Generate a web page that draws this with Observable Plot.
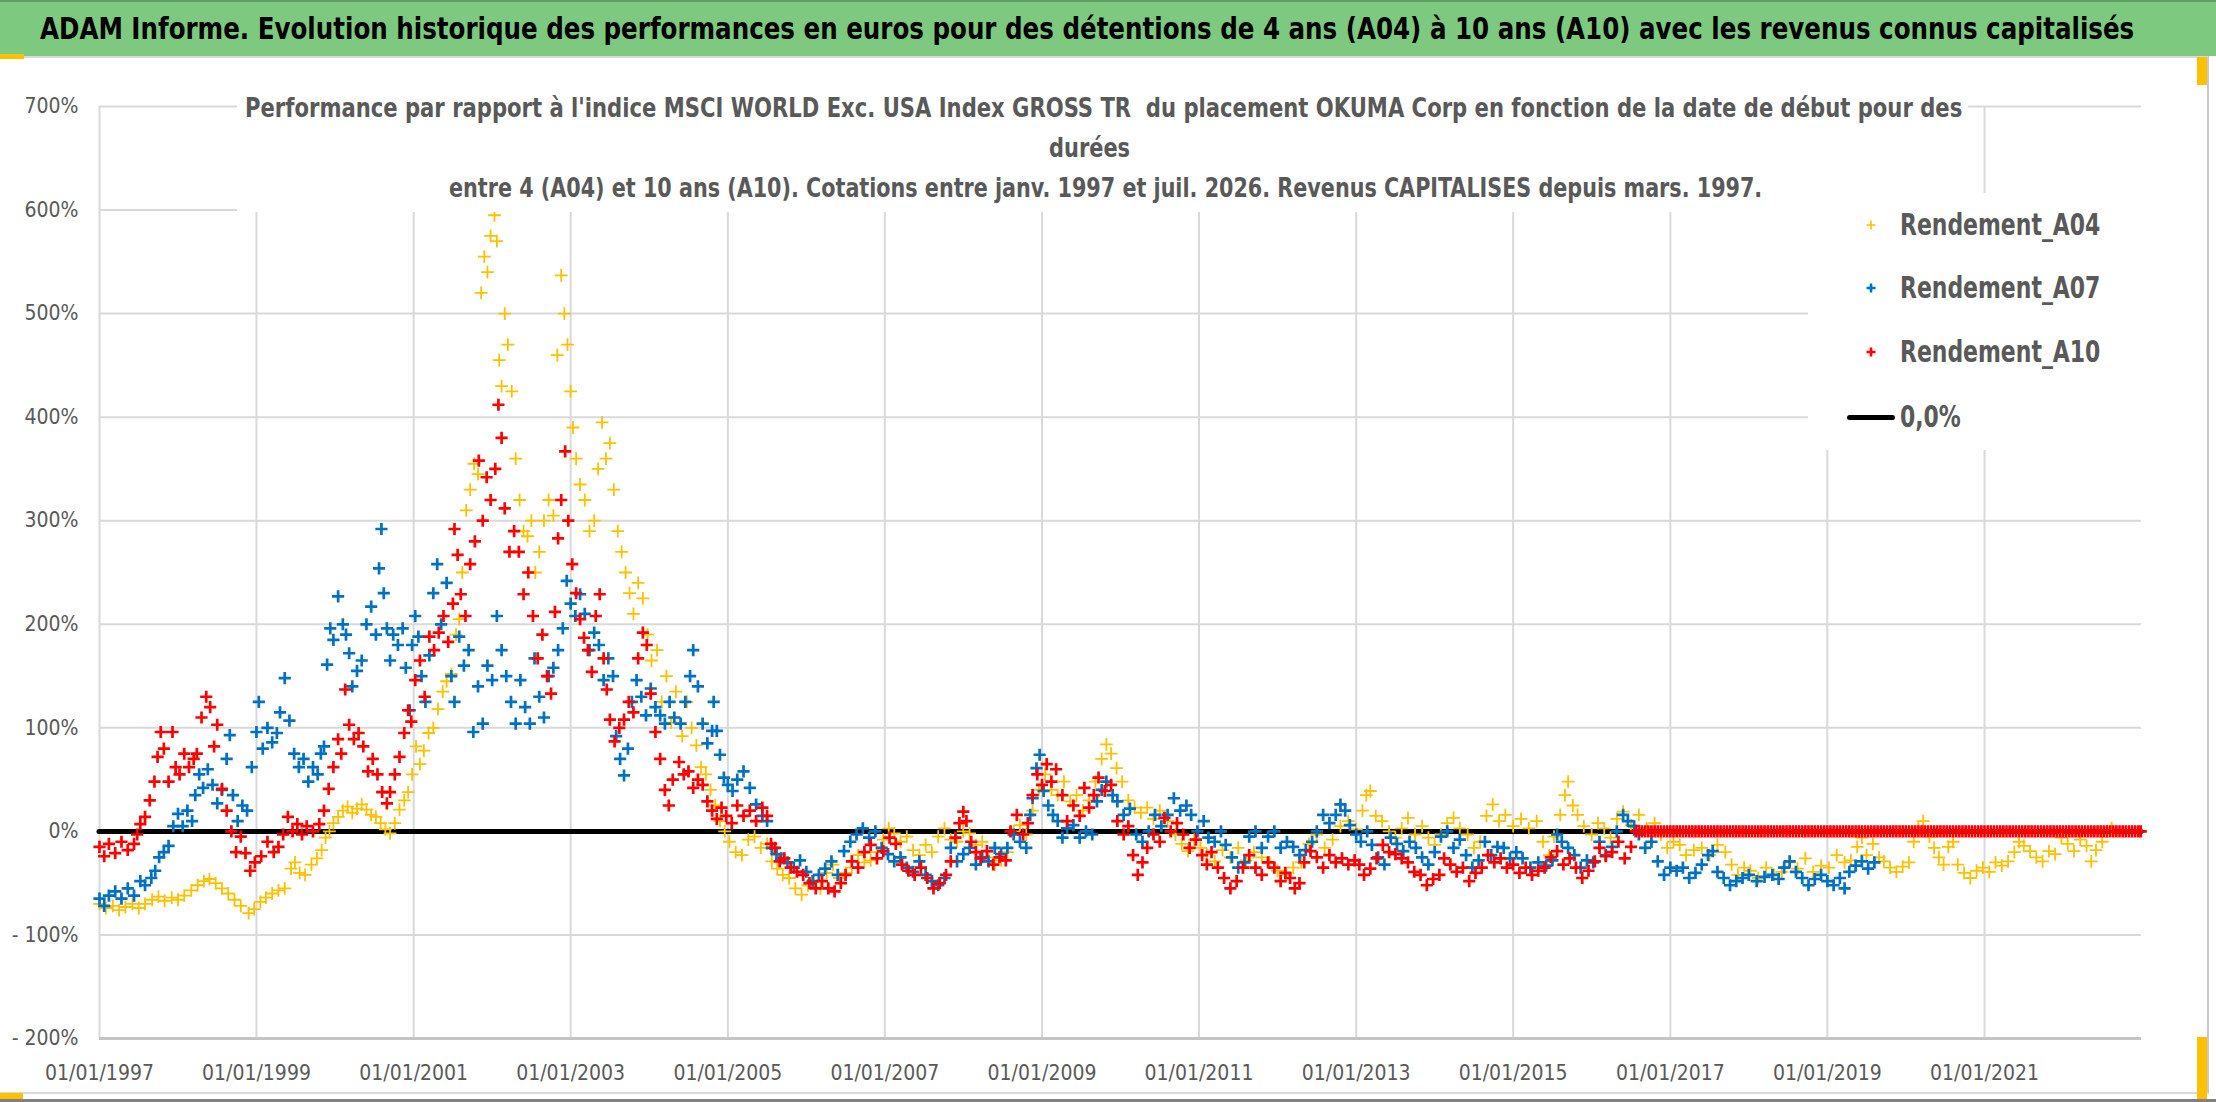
<!DOCTYPE html>
<html><head><meta charset="utf-8">
<script src="https://cdn.jsdelivr.net/npm/d3@7"></script>
<script src="https://cdn.jsdelivr.net/npm/@observablehq/plot@0.6"></script>
<style>
html,body{margin:0;padding:0;background:#fff;}
body{width:2216px;height:1102px;position:relative;overflow:hidden;font-family:'Liberation Sans Narrow','Arial Narrow','DejaVu Sans Condensed',sans-serif;}
.abs{position:absolute;}
.fit{position:absolute;white-space:pre;transform-origin:0 50%;}
.sub{font-size:26px;font-weight:bold;color:#595959;line-height:32px;}
.leg{font-size:30px;font-weight:bold;color:#595959;line-height:36px;}
</style></head><body>
<div class="abs" style="left:0;top:0;width:2216px;height:54px;background:#7DC97F;border-top:2px solid #5E9E60;"></div>
<div class="abs" style="left:0;top:56px;width:2207px;height:1034px;border-top:2px solid #D9D9D9;border-right:2px solid #C8C8C8;border-bottom:2px solid #D9D9D9;"></div>
<div class="abs" style="left:0;top:1099px;width:2216px;height:3px;background:#808080;"></div>
<div id="chart" class="abs" style="left:0;top:57px;"></div>
<div class="abs" style="left:237px;top:62px;width:1731px;height:150px;background:#fff;"></div>
<div class="abs" style="left:1808px;top:193px;width:342px;height:257px;background:#fff;"></div>
<div id="title" class="fit" style="font-size:31px;font-weight:bold;color:#000;line-height:38px;"></div>
<div id="s1" class="fit sub"></div>
<div id="s2" class="fit sub"></div>
<div id="s3" class="fit sub"></div>
<div id="legend"></div>
<div class="abs" style="left:0;top:54px;width:24px;height:5px;background:#FFC000;"></div>
<div class="abs" style="left:0;top:1093px;width:23px;height:6px;background:#FFC000;"></div>
<div class="abs" style="left:2197px;top:1037px;width:10px;height:62px;background:#FFC000;"></div>
<div class="abs" style="left:2197px;top:57px;width:10px;height:28px;background:#FFC000;"></div>
<script>
const FONT = "'Liberation Sans Narrow','Arial Narrow','DejaVu Sans Condensed',sans-serif";

const titleText = "ADAM Informe. Evolution historique des performances en euros pour des détentions de 4 ans (A04) à 10 ans (A10) avec les revenus connus capitalisés";
const subtitleLines = [
  "Performance par rapport à l'indice MSCI WORLD Exc. USA Index GROSS TR  du placement OKUMA Corp en fonction de la date de début pour des",
  "durées",
  "entre 4 (A04) et 10 ans (A10). Cotations entre janv. 1997 et juil. 2026. Revenus CAPITALISES depuis mars. 1997."
];
const seriesNames = ["Rendement_A04", "Rendement_A07", "Rendement_A10"];
const zeroName = "0,0%";
const seriesColors = ["#FFC000", "#0070C0", "#FF0000"];

const yTicks = [-200, -100, 0, 100, 200, 300, 400, 500, 600, 700];
const xTickYears = [1997, 1999, 2001, 2003, 2005, 2007, 2009, 2011, 2013, 2015, 2017, 2019, 2021];
const xStartYear = 1997, xEndYear = 2023;

// [decimal year, performance %]
const rendementA04 = [[1997.00,-70],[1997.08,-74],[1997.17,-72],[1997.25,-76],[1997.33,-73],[1997.42,-70],[1997.5,-74],[1997.58,-70],[1997.67,-66],[1997.75,-63],[1997.83,-67],[1997.92,-64],[1998.0,-66],[1998.08,-62],[1998.17,-57],[1998.25,-52],[1998.33,-48],[1998.4,-46],[1998.48,-50],[1998.56,-55],[1998.64,-60],[1998.72,-66],[1998.8,-72],[1998.9,-79],[1998.97,-75],[1999.05,-68],[1999.12,-64],[1999.2,-60],[1999.28,-57],[1999.36,-55],[1999.44,-36],[1999.49,-30],[1999.55,-40],[1999.62,-42],[1999.7,-32],[1999.77,-26],[1999.83,-18],[1999.88,-6],[1999.93,0],[1999.98,8],[2000.04,14],[2000.1,20],[2000.16,24],[2000.22,18],[2000.28,22],[2000.34,26],[2000.4,21],[2000.46,16],[2000.52,14],[2000.58,8],[2000.64,2],[2000.7,-2],[2000.76,8],[2000.82,21],[2000.88,30],[2000.93,38],[2000.98,55],[2001.03,82],[2001.08,65],[2001.13,78],[2001.19,95],[2001.25,100],[2001.31,118],[2001.37,135],[2001.42,145],[2001.48,152],[2001.54,190],[2001.58,205],[2001.62,250],[2001.67,310],[2001.72,330],[2001.77,355],[2001.82,345],[2001.86,520],[2001.9,555],[2001.94,540],[2001.98,575],[2002.03,595],[2002.06,570],[2002.09,455],[2002.12,430],[2002.16,500],[2002.2,470],[2002.25,425],[2002.3,360],[2002.35,320],[2002.4,290],[2002.45,285],[2002.5,300],[2002.55,250],[2002.6,270],[2002.66,300],[2002.72,320],[2002.78,305],[2002.83,460],[2002.88,537],[2002.92,500],[2002.96,470],[2003.0,425],[2003.03,390],[2003.07,360],[2003.12,335],[2003.18,320],[2003.24,290],[2003.3,300],[2003.35,350],[2003.4,395],[2003.45,360],[2003.5,375],[2003.55,330],[2003.6,290],[2003.65,270],[2003.7,250],[2003.75,230],[2003.8,210],[2003.86,240],[2003.92,225],[2003.98,190],[2004.03,165],[2004.1,175],[2004.16,125],[2004.22,150],[2004.28,105],[2004.34,135],[2004.42,92],[2004.48,125],[2004.54,100],[2004.6,83],[2004.66,62],[2004.72,55],[2004.78,40],[2004.84,25],[2004.9,10],[2004.96,0],[2005.02,-10],[2005.1,-20],[2005.18,-23],[2005.26,-8],[2005.34,-5],[2005.42,-16],[2005.5,-12],[2005.56,-29],[2005.63,-36],[2005.7,-42],[2005.78,-45],[2005.86,-55],[2005.94,-61],[2006.02,-52],[2006.1,-48],[2006.18,-55],[2006.26,-40],[2006.34,-32],[2006.42,-45],[2006.5,-40],[2006.58,-35],[2006.66,-23],[2006.74,-30],[2006.82,-28],[2006.9,-20],[2006.98,-8],[2007.05,3],[2007.12,-2],[2007.2,-10],[2007.28,-5],[2007.36,-18],[2007.44,-23],[2007.52,-13],[2007.6,-20],[2007.68,-5],[2007.76,3],[2007.84,-8],[2007.92,-10],[2008.0,0],[2008.08,-2],[2008.16,-13],[2008.24,-10],[2008.32,-25],[2008.4,-32],[2008.48,-28],[2008.56,-20],[2008.64,0],[2008.72,6],[2008.8,-3],[2008.88,20],[2008.96,40],[2009.04,55],[2009.12,40],[2009.2,35],[2009.28,48],[2009.36,29],[2009.44,35],[2009.52,20],[2009.6,30],[2009.68,48],[2009.76,70],[2009.82,84],[2009.88,75],[2009.95,61],[2010.02,48],[2010.1,30],[2010.18,23],[2010.26,18],[2010.34,23],[2010.42,12],[2010.5,20],[2010.6,10],[2010.7,-3],[2010.78,-12],[2010.86,-19],[2010.94,-8],[2011.02,-16],[2011.1,-22],[2011.2,-29],[2011.3,-18],[2011.4,-25],[2011.5,-16],[2011.6,-28],[2011.7,-20],[2011.8,-25],[2011.9,-30],[2012.0,-38],[2012.1,-42],[2012.2,-35],[2012.3,-30],[2012.4,-12],[2012.5,-3],[2012.6,-16],[2012.7,-8],[2012.8,5],[2012.9,10],[2013.0,2],[2013.08,20],[2013.13,35],[2013.18,39],[2013.25,15],[2013.33,10],[2013.42,0],[2013.5,-6],[2013.58,3],[2013.66,13],[2013.75,-3],[2013.84,5],[2013.92,-6],[2014.0,-13],[2014.08,-3],[2014.16,8],[2014.24,13],[2014.32,3],[2014.42,-3],[2014.5,-16],[2014.58,-10],[2014.66,15],[2014.74,26],[2014.82,10],[2014.9,16],[2015.0,5],[2015.1,12],[2015.2,3],[2015.3,10],[2015.38,-10],[2015.46,-23],[2015.52,-5],[2015.6,16],[2015.66,35],[2015.7,48],[2015.76,25],[2015.82,16],[2015.9,5],[2016.0,-3],[2016.08,8],[2016.16,3],[2016.24,-6],[2016.32,12],[2016.4,19],[2016.5,6],[2016.6,16],[2016.7,3],[2016.8,8],[2016.88,-3],[2016.96,-16],[2017.04,-10],[2017.12,-13],[2017.2,-23],[2017.3,-18],[2017.4,-16],[2017.5,-23],[2017.6,-13],[2017.7,-20],[2017.78,-32],[2017.86,-42],[2017.94,-35],[2018.02,-38],[2018.12,-45],[2018.22,-35],[2018.32,-42],[2018.42,-39],[2018.52,-30],[2018.62,-36],[2018.72,-26],[2018.82,-39],[2018.92,-33],[2019.02,-35],[2019.12,-23],[2019.22,-30],[2019.3,-28],[2019.38,-15],[2019.44,-6],[2019.5,-23],[2019.58,-12],[2019.66,-25],[2019.72,-29],[2019.8,-35],[2019.88,-39],[2019.96,-34],[2020.04,-30],[2020.1,-10],[2020.16,3],[2020.22,10],[2020.3,-5],[2020.36,-16],[2020.42,-25],[2020.48,-32],[2020.54,-15],[2020.6,-10],[2020.66,-32],[2020.74,-40],[2020.82,-45],[2020.9,-38],[2020.98,-35],[2021.06,-39],[2021.14,-30],[2021.22,-33],[2021.3,-29],[2021.38,-20],[2021.44,-10],[2021.5,-14],[2021.58,-19],[2021.66,-25],[2021.74,-29],[2021.82,-19],[2021.9,-22],[2021.98,-6],[2022.06,-12],[2022.14,-19],[2022.22,-8],[2022.3,-14],[2022.36,-29],[2022.42,-18],[2022.5,-10],[2022.56,0],[2022.62,3]];

const rendementA07 = [[1997.0,-65],[1997.06,-72],[1997.12,-62],[1997.2,-58],[1997.28,-65],[1997.36,-55],[1997.44,-62],[1997.52,-48],[1997.58,-52],[1997.66,-45],[1997.71,-38],[1997.76,-25],[1997.82,-20],[1997.88,-14],[1997.94,5],[1998.0,17],[1998.06,5],[1998.12,20],[1998.18,10],[1998.22,35],[1998.27,55],[1998.32,42],[1998.38,60],[1998.44,45],[1998.5,27],[1998.56,40],[1998.62,70],[1998.66,93],[1998.7,35],[1998.76,10],[1998.82,25],[1998.88,20],[1998.94,62],[1999.0,96],[1999.03,125],[1999.08,80],[1999.14,100],[1999.2,86],[1999.26,95],[1999.3,115],[1999.36,148],[1999.42,107],[1999.48,75],[1999.54,62],[1999.6,70],[1999.66,48],[1999.72,62],[1999.78,55],[1999.82,75],[1999.86,82],[1999.9,161],[1999.94,196],[1999.98,185],[2000.04,227],[2000.1,200],[2000.14,190],[2000.18,172],[2000.22,140],[2000.28,155],[2000.34,165],[2000.4,200],[2000.46,217],[2000.52,190],[2000.56,254],[2000.59,292],[2000.62,230],[2000.66,196],[2000.7,165],[2000.74,190],[2000.8,180],[2000.86,196],[2000.9,158],[2000.95,117],[2000.98,180],[2001.02,208],[2001.06,188],[2001.1,150],[2001.15,125],[2001.2,170],[2001.25,230],[2001.3,258],[2001.35,200],[2001.42,240],[2001.48,150],[2001.52,125],[2001.58,188],[2001.64,160],[2001.7,175],[2001.76,96],[2001.82,140],[2001.88,104],[2001.94,160],[2002.0,146],[2002.06,208],[2002.12,175],[2002.18,150],[2002.24,125],[2002.3,104],[2002.36,146],[2002.42,120],[2002.48,104],[2002.54,167],[2002.6,130],[2002.66,110],[2002.72,150],[2002.78,158],[2002.84,175],[2002.9,196],[2002.95,242],[2003.0,220],[2003.06,208],[2003.12,229],[2003.18,210],[2003.24,175],[2003.3,192],[2003.36,180],[2003.42,146],[2003.48,167],[2003.54,150],[2003.58,92],[2003.63,70],[2003.68,54],[2003.73,80],[2003.78,125],[2003.84,146],[2003.9,130],[2003.96,112],[2004.02,138],[2004.08,120],[2004.14,112],[2004.2,104],[2004.26,125],[2004.32,110],[2004.4,104],[2004.46,125],[2004.52,150],[2004.56,175],[2004.62,140],[2004.68,104],[2004.74,85],[2004.8,97],[2004.82,125],[2004.86,97],[2004.9,74],[2004.95,52],[2005.0,45],[2005.06,39],[2005.12,50],[2005.2,58],[2005.28,42],[2005.36,26],[2005.44,15],[2005.5,10],[2005.56,-16],[2005.62,-22],[2005.68,-26],[2005.76,-30],[2005.84,-35],[2005.92,-28],[2006.0,-39],[2006.08,-48],[2006.16,-42],[2006.24,-36],[2006.32,-29],[2006.4,-42],[2006.48,-19],[2006.56,-10],[2006.64,-3],[2006.72,3],[2006.8,-6],[2006.88,0],[2006.96,-16],[2007.04,-22],[2007.12,-29],[2007.2,-25],[2007.28,-35],[2007.36,-39],[2007.44,-29],[2007.52,-42],[2007.6,-48],[2007.68,-52],[2007.76,-45],[2007.84,-16],[2007.92,-29],[2008.0,-22],[2008.08,-16],[2008.16,-32],[2008.24,-25],[2008.32,-29],[2008.4,-16],[2008.48,-22],[2008.56,-16],[2008.64,-3],[2008.72,-10],[2008.8,-16],[2008.85,16],[2008.88,32],[2008.93,61],[2008.97,74],[2009.02,39],[2009.08,25],[2009.14,16],[2009.2,10],[2009.26,-6],[2009.32,3],[2009.4,6],[2009.48,-6],[2009.56,0],[2009.64,-3],[2009.7,29],[2009.76,40],[2009.82,48],[2009.9,35],[2009.96,29],[2010.04,16],[2010.12,22],[2010.2,-3],[2010.28,-10],[2010.36,0],[2010.44,16],[2010.52,5],[2010.6,16],[2010.68,32],[2010.76,20],[2010.84,25],[2010.9,16],[2010.98,0],[2011.06,10],[2011.12,-6],[2011.2,-10],[2011.28,0],[2011.34,-13],[2011.42,-25],[2011.5,-35],[2011.58,-30],[2011.64,-5],[2011.72,0],[2011.8,-16],[2011.88,-5],[2011.96,0],[2012.04,-16],[2012.12,-10],[2012.2,-15],[2012.28,-23],[2012.36,-18],[2012.44,-10],[2012.5,0],[2012.58,16],[2012.66,8],[2012.74,16],[2012.8,26],[2012.86,20],[2012.92,6],[2013.0,-3],[2013.06,-10],[2013.14,0],[2013.2,-13],[2013.28,-25],[2013.36,-32],[2013.44,-6],[2013.52,-12],[2013.6,-19],[2013.68,-10],[2013.76,-16],[2013.84,-25],[2013.92,-32],[2014.0,-20],[2014.08,-5],[2014.16,0],[2014.24,-16],[2014.32,-8],[2014.4,-23],[2014.48,-35],[2014.56,-28],[2014.64,-10],[2014.72,-23],[2014.8,-15],[2014.88,-16],[2014.96,-26],[2015.04,-20],[2015.12,-26],[2015.22,-35],[2015.32,-30],[2015.42,-33],[2015.5,-28],[2015.56,-3],[2015.62,-10],[2015.7,-16],[2015.78,-23],[2015.86,-35],[2015.94,-28],[2016.02,-30],[2016.1,-10],[2016.18,-23],[2016.26,-15],[2016.32,0],[2016.4,16],[2016.46,10],[2016.54,5],[2016.6,-3],[2016.68,-16],[2016.76,-10],[2016.84,-29],[2016.92,-42],[2017.0,-35],[2017.08,-38],[2017.16,-35],[2017.24,-45],[2017.32,-40],[2017.4,-32],[2017.48,-23],[2017.54,-19],[2017.6,-39],[2017.68,-45],[2017.76,-52],[2017.84,-48],[2017.92,-45],[2018.0,-42],[2018.1,-48],[2018.2,-44],[2018.3,-42],[2018.38,-46],[2018.45,-35],[2018.52,-29],[2018.6,-39],[2018.68,-45],[2018.76,-52],[2018.84,-46],[2018.92,-42],[2019.0,-48],[2019.08,-52],[2019.16,-45],[2019.22,-55],[2019.28,-39],[2019.36,-33],[2019.44,-29],[2019.52,-36],[2019.6,-30]];

const rendementA10 = [[1997.0,-15],[1997.06,-24],[1997.12,-12],[1997.2,-21],[1997.28,-10],[1997.36,-18],[1997.44,-12],[1997.48,-3],[1997.52,7],[1997.58,14],[1997.64,30],[1997.7,48],[1997.74,72],[1997.78,96],[1997.82,80],[1997.88,48],[1997.93,96],[1997.97,62],[1998.02,55],[1998.08,75],[1998.14,62],[1998.2,70],[1998.24,75],[1998.3,110],[1998.36,130],[1998.41,120],[1998.46,82],[1998.5,103],[1998.56,41],[1998.62,20],[1998.68,0],[1998.74,-20],[1998.8,-5],[1998.86,-21],[1998.92,-38],[1998.98,-30],[1999.06,-24],[1999.14,-10],[1999.22,-20],[1999.28,-15],[1999.34,-3],[1999.4,14],[1999.46,0],[1999.52,7],[1999.58,-3],[1999.64,5],[1999.72,0],[1999.8,7],[1999.86,20],[1999.92,41],[1999.98,62],[2000.04,89],[2000.08,75],[2000.13,137],[2000.18,103],[2000.24,89],[2000.3,95],[2000.36,82],[2000.42,58],[2000.48,70],[2000.54,55],[2000.6,38],[2000.66,27],[2000.7,38],[2000.76,55],[2000.82,72],[2000.88,95],[2000.93,117],[2000.97,106],[2001.02,146],[2001.08,165],[2001.14,130],[2001.2,188],[2001.26,175],[2001.32,192],[2001.38,208],[2001.44,183],[2001.5,220],[2001.52,292],[2001.56,267],[2001.6,229],[2001.66,208],[2001.72,258],[2001.78,280],[2001.83,358],[2001.88,300],[2001.93,342],[2001.98,320],[2002.04,350],[2002.08,412],[2002.12,380],[2002.16,312],[2002.22,270],[2002.28,290],[2002.34,270],[2002.4,229],[2002.46,250],[2002.52,208],[2002.58,167],[2002.64,190],[2002.7,150],[2002.75,133],[2002.8,212],[2002.84,283],[2002.88,320],[2002.93,367],[2002.97,300],[2003.02,258],[2003.07,230],[2003.12,205],[2003.17,187],[2003.22,175],[2003.27,154],[2003.32,208],[2003.37,229],[2003.42,167],[2003.46,137],[2003.5,108],[2003.56,87],[2003.62,100],[2003.68,108],[2003.74,125],[2003.8,115],[2003.86,167],[2003.92,192],[2003.97,180],[2004.02,133],[2004.08,96],[2004.14,70],[2004.2,40],[2004.25,25],[2004.3,50],[2004.38,67],[2004.44,55],[2004.5,58],[2004.56,42],[2004.62,50],[2004.68,45],[2004.74,29],[2004.8,20],[2004.86,12],[2004.92,23],[2004.98,15],[2005.05,8],[2005.12,25],[2005.2,15],[2005.28,20],[2005.36,10],[2005.44,23],[2005.5,15],[2005.55,-12],[2005.6,-16],[2005.66,-29],[2005.72,-26],[2005.8,-35],[2005.88,-39],[2005.96,-42],[2006.04,-50],[2006.12,-55],[2006.2,-48],[2006.28,-55],[2006.36,-58],[2006.44,-50],[2006.5,-42],[2006.58,-29],[2006.66,-35],[2006.74,-20],[2006.82,-13],[2006.9,-26],[2006.98,-19],[2007.06,-6],[2007.14,-12],[2007.22,-32],[2007.3,-38],[2007.38,-42],[2007.46,-35],[2007.54,-45],[2007.62,-55],[2007.7,-50],[2007.78,-42],[2007.84,-29],[2007.9,-6],[2007.95,8],[2008.0,19],[2008.04,10],[2008.1,-10],[2008.16,-20],[2008.22,-26],[2008.3,-19],[2008.38,-32],[2008.46,-25],[2008.54,-28],[2008.6,0],[2008.68,16],[2008.76,-3],[2008.82,8],[2008.88,35],[2008.94,55],[2009.0,45],[2009.06,65],[2009.12,48],[2009.18,60],[2009.26,35],[2009.32,10],[2009.4,25],[2009.48,15],[2009.54,42],[2009.6,23],[2009.66,35],[2009.72,52],[2009.8,39],[2009.88,45],[2009.96,10],[2010.04,-3],[2010.1,5],[2010.16,-23],[2010.22,-42],[2010.28,-30],[2010.34,-16],[2010.42,-3],[2010.5,-10],[2010.56,13],[2010.64,0],[2010.72,8],[2010.8,-3],[2010.88,-16],[2010.96,-8],[2011.04,-23],[2011.1,-32],[2011.16,-20],[2011.24,-35],[2011.32,-45],[2011.4,-55],[2011.48,-48],[2011.56,-35],[2011.64,-23],[2011.72,-35],[2011.8,-42],[2011.88,-30],[2011.96,-35],[2012.04,-48],[2012.1,-40],[2012.16,-45],[2012.22,-55],[2012.28,-50],[2012.34,-30],[2012.42,-19],[2012.5,-25],[2012.58,-35],[2012.66,-23],[2012.74,-30],[2012.82,-26],[2012.9,-32],[2012.98,-28],[2013.04,-32],[2013.1,-42],[2013.18,-36],[2013.26,-26],[2013.34,-13],[2013.42,-20],[2013.5,-22],[2013.58,-26],[2013.66,-30],[2013.74,-39],[2013.82,-42],[2013.9,-52],[2013.98,-46],[2014.06,-42],[2014.12,-26],[2014.2,-32],[2014.28,-39],[2014.36,-35],[2014.44,-48],[2014.52,-40],[2014.6,-35],[2014.68,-23],[2014.76,-30],[2014.84,-26],[2014.92,-35],[2015.0,-32],[2015.08,-40],[2015.16,-35],[2015.24,-42],[2015.32,-38],[2015.4,-35],[2015.48,-25],[2015.56,-19],[2015.64,-32],[2015.72,-26],[2015.8,-35],[2015.88,-45],[2015.96,-38],[2016.04,-29],[2016.1,-16],[2016.18,-24],[2016.26,-20],[2016.34,-10],[2016.42,-26],[2016.5,-15]];

// A10 values read as 0 from mid-2016 onward (no completed 10-year window)
const rendementA10ZeroYears = [
2016.56,2016.6,2016.64,2016.68,2016.72,2016.76,2016.8,2016.84,2016.88,2016.92,2016.96,
2017.0,2017.04,2017.08,2017.12,2017.16,2017.2,2017.24,2017.28,2017.32,2017.36,2017.4,2017.44,2017.48,2017.52,2017.56,2017.6,2017.64,2017.68,2017.72,2017.76,2017.8,2017.84,2017.88,2017.92,2017.96,
2018.0,2018.04,2018.08,2018.12,2018.16,2018.2,2018.24,2018.28,2018.32,2018.36,2018.4,2018.44,2018.48,2018.52,2018.56,2018.6,2018.64,2018.68,2018.72,2018.76,2018.8,2018.84,2018.88,2018.92,2018.96,
2019.0,2019.04,2019.08,2019.12,2019.16,2019.2,2019.24,2019.28,2019.32,2019.36,2019.4,2019.44,2019.48,2019.52,2019.56,2019.6,2019.64,2019.68,2019.72,2019.76,2019.8,2019.84,2019.88,2019.92,2019.96,
2020.0,2020.04,2020.08,2020.12,2020.16,2020.2,2020.24,2020.28,2020.32,2020.36,2020.4,2020.44,2020.48,2020.52,2020.56,2020.6,2020.64,2020.68,2020.72,2020.76,2020.8,2020.84,2020.88,2020.92,2020.96,
2021.0,2021.04,2021.08,2021.12,2021.16,2021.2,2021.24,2021.28,2021.32,2021.36,2021.4,2021.44,2021.48,2021.52,2021.56,2021.6,2021.64,2021.68,2021.72,2021.76,2021.8,2021.84,2021.88,2021.92,2021.96,
2022.0,2022.04,2022.08,2022.12,2022.16,2022.2,2022.24,2022.28,2022.32,2022.36,2022.4,2022.44,2022.48,2022.52,2022.56,2022.6,2022.64,2022.68,2022.72,2022.76,2022.8,2022.84,2022.88,2022.92,2022.96,2022.99];

function dec(y) {
  const yr = Math.floor(y);
  const a = Date.UTC(yr, 0, 1), b = Date.UTC(yr + 1, 0, 1);
  return new Date(a + (y - yr) * (b - a));
}
const rows = arr => arr.map(([t, v]) => ({date: dec(t), value: v}));
const dataA04 = rows(rendementA04);
const dataA07 = rows(rendementA07);
const dataA10 = rows(rendementA10).concat(rendementA10ZeroYears.map(t => ({date: dec(t), value: 0})));

const pct = v => v < 0 ? "- " + (-v) + "%" : v + "%";

const chart = Plot.plot({
  width: 2216,
  height: 1045,
  marginTop: 49,
  marginBottom: 64,
  marginLeft: 99,
  marginRight: 75,
  style: {fontFamily: FONT, fontSize: "21px", color: "#595959", background: "transparent", overflow: "visible"},
  x: {type: "utc", domain: [dec(xStartYear), dec(xEndYear)], ticks: xTickYears.map(dec), tickFormat: d3.utcFormat("%d/%m/%Y"), tickSize: 0, tickPadding: 27, label: null},
  y: {domain: [-200, 700], ticks: yTicks, tickFormat: pct, tickSize: 0, tickPadding: 21, label: null},
  marks: [
    Plot.ruleY(yTicks, {stroke: "#D9D9D9", strokeWidth: 2}),
    Plot.ruleX(xTickYears.map(dec), {stroke: "#D9D9D9", strokeWidth: 2}),
    Plot.ruleY([-200], {stroke: "#C4C4C4", strokeWidth: 3}),
    Plot.ruleY([0], {stroke: "#000", strokeWidth: 5, strokeLinecap: "round"}),
    Plot.dot(dataA04, {x: "date", y: "value", symbol: "plus", r: 4.2, stroke: seriesColors[0], strokeWidth: 1.8, fill: "none"}),
    Plot.dot(dataA07, {x: "date", y: "value", symbol: "plus", r: 4, stroke: seriesColors[1], strokeWidth: 2.7, fill: "none"}),
    Plot.dot(dataA10, {x: "date", y: "value", symbol: "plus", r: 4, stroke: seriesColors[2], strokeWidth: 2.7, fill: "none"})
  ]
});
document.getElementById("chart").appendChild(chart);

// legend
const legend = document.getElementById("legend");
const legendRowsY = [225, 288, 352];
seriesNames.forEach((name, i) => {
  const sw = i === 0 ? 1.6 : 2.6;
  const m = document.createElementNS("http://www.w3.org/2000/svg", "svg");
  m.setAttribute("width", 16); m.setAttribute("height", 16);
  m.style.cssText = `position:absolute;left:${1871 - 8}px;top:${legendRowsY[i] - 8}px;`;
  m.innerHTML = `<path d="M3.5,8H12.5M8,3.5V12.5" stroke="${seriesColors[i]}" stroke-width="${sw}" fill="none"/>`;
  legend.appendChild(m);
  const t = document.createElement("div");
  t.className = "fit leg"; t.textContent = name; t.dataset.w = 200; t.dataset.l = 1900; t.dataset.cy = legendRowsY[i];
  legend.appendChild(t);
});
const zl = document.createElement("div");
zl.style.cssText = "position:absolute;left:1847px;top:415px;width:48px;height:5px;background:#000;border-radius:3px;";
legend.appendChild(zl);
const zt = document.createElement("div");
zt.className = "fit leg"; zt.textContent = zeroName; zt.dataset.l = 1900; zt.dataset.cy = 417; zt.dataset.scaleFrom = "leg";
legend.appendChild(zt);

const tEl = document.getElementById("title");
tEl.textContent = titleText; tEl.dataset.w = 2094; tEl.dataset.l = 40; tEl.dataset.cy = 28;
const s = [document.getElementById("s1"), document.getElementById("s2"), document.getElementById("s3")];
s.forEach((el, i) => { el.textContent = subtitleLines[i]; });
s[0].dataset.w = 1717; s[0].dataset.c = 1103; s[0].dataset.cy = 108;
s[1].dataset.c = 1090; s[1].dataset.cy = 148;
s[2].dataset.w = 1313; s[2].dataset.c = 1105; s[2].dataset.cy = 188;

function fitAll() {
  let legK = 1;
  const all = [tEl, ...s, ...legend.querySelectorAll(".fit")];
  all.forEach(el => { el.style.transform = "none"; });
  all.forEach(el => {
    const w0 = el.offsetWidth;
    const lh = parseFloat(getComputedStyle(el).lineHeight);
    let k;
    if (el.dataset.w) k = +el.dataset.w / w0;
    else if (el.dataset.scaleFrom === "leg") k = legK;
    else k = (+s[0].dataset.w / s[0].offsetWidth + +s[2].dataset.w / s[2].offsetWidth) / 2;
    if (el.classList.contains("leg") && el.dataset.w) legK = k;
    const w = w0 * k;
    const left = el.dataset.c ? +el.dataset.c - w / 2 : +el.dataset.l;
    el.style.left = left + "px";
    el.style.top = (+el.dataset.cy - lh / 2) + "px";
    el.style.transform = `scaleX(${k})`;
  });
}
fitAll();
if (document.fonts && document.fonts.ready) document.fonts.ready.then(fitAll);
</script>
</body></html>
